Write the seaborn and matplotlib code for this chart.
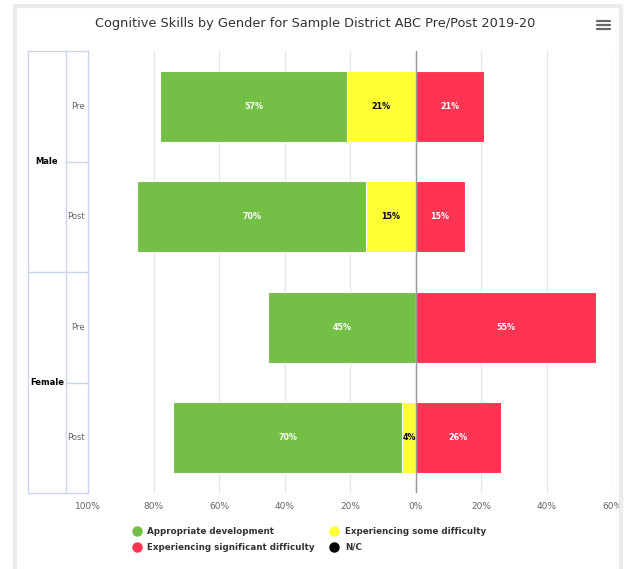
import matplotlib
matplotlib.use("Agg")
import matplotlib.pyplot as plt
import matplotlib.transforms as mtransforms
from matplotlib.lines import Line2D
from matplotlib.patches import Rectangle
import seaborn as sns
import pandas as pd

# ---------------- data ----------------
title = "Cognitive Skills by Gender for Sample District ABC Pre/Post 2019-20"
genders = ["Male", "Male", "Female", "Female"]
phases = ["Pre", "Post", "Pre", "Post"]
appropriate = [57, 70, 45, 70]
some_difficulty = [21, 15, 0, 4]
significant = [21, 15, 55, 26]
series_names = ["Appropriate development", "Experiencing some difficulty",
                "Experiencing significant difficulty", "N/C"]
series_colors = ["#74bf46", "#ffff33", "#ff3352", "#000000"]
xtick_values = [-100, -80, -60, -40, -20, 0, 20, 40, 60]
xtick_labels = [f"{abs(v)}%" for v in xtick_values]

# ---------------- setup ----------------
sns.set_theme(style="white")
plt.rcParams['font.family'] = ['DejaVu Sans']

df = pd.DataFrame({
    "key": [f"{g} {p}" for g, p in zip(genders, phases)],
    "gender": genders, "phase": phases,
    "appr": appropriate, "some": some_difficulty, "sig": significant,
})
df["left_total"] = -(df["appr"] + df["some"])
df["left_some"] = -df["some"]
order = list(df["key"])

W, H = 625, 569
fig = plt.figure(figsize=(W / 100, H / 100), dpi=100)
fig.patch.set_facecolor("white")
ax = fig.add_axes([88 / W, 1 - 493 / H, (612 - 88) / W, (493 - 51) / H])

bar_kw = dict(orient="h", order=order, width=0.64, edgecolor="white",
              linewidth=0.8, ax=ax, errorbar=None, saturation=1, zorder=2)
sns.barplot(data=df, x="left_total", y="key", color=series_colors[0], **bar_kw)
sns.barplot(data=df, x="left_some", y="key", color=series_colors[1], **bar_kw)
sns.barplot(data=df, x="sig", y="key", color=series_colors[2], **bar_kw)

ax.set_xlim(-100, 60)
ax.set_ylim(3.5, -0.5)
ax.set_xticks(xtick_values)
ax.set_xticklabels(xtick_labels)
ax.tick_params(axis='x', length=0, pad=6.5, labelsize=6.5, labelcolor="#666666")
ax.tick_params(axis='y', length=0, labelleft=False)
ax.set_xlabel("")
ax.set_ylabel("")
for s in ax.spines.values():
    s.set_visible(False)
ax.grid(axis='x', color="#e6e6e6", linewidth=1)
ax.grid(axis='y', visible=False)
ax.set_axisbelow(True)
ax.axvline(0, color="#999999", linewidth=1, zorder=3)

# data labels
for i, row in df.iterrows():
    if row["appr"] > 0:
        ax.text(-(row["some"] + row["appr"] / 2), i, f"{row['appr']}%", ha="center", va="center",
                fontsize=5.8, fontweight="bold", color="white", zorder=4)
    if row["some"] > 0:
        ax.text(-row["some"] / 2, i, f"{row['some']}%", ha="center", va="center",
                fontsize=5.8, fontweight="bold", color="black", zorder=4)
    if row["sig"] > 0:
        ax.text(row["sig"] / 2, i, f"{row['sig']}%", ha="center", va="center",
                fontsize=5.8, fontweight="bold", color="white", zorder=4)

# grouped category axis
tr = mtransforms.blended_transform_factory(fig.transFigure, ax.transData)
box_col = "#ccd6eb"
x_out, x_mid, x_in = 28 / W, 66 / W, 88 / W
for xv in (x_out, x_mid, x_in):
    fig.add_artist(Line2D([xv, xv], [-0.5, 3.5], transform=tr, color=box_col, lw=1))
for yv in (-0.5, 1.5, 3.5):
    fig.add_artist(Line2D([x_out, x_in], [yv, yv], transform=tr, color=box_col, lw=1))
for yv in (0.5, 2.5):
    fig.add_artist(Line2D([x_mid, x_in], [yv, yv], transform=tr, color=box_col, lw=1))
for i, p in enumerate(phases):
    fig.text(85 / W, i, p, transform=tr, ha="right", va="center", fontsize=6, color="#666666")
groups = []
for i, g in enumerate(genders):
    if not groups or groups[-1][0] != g:
        groups.append([g, i, i])
    else:
        groups[-1][2] = i
for g, a, b in groups:
    fig.text(47 / W, (a + b) / 2, g, transform=tr, ha="center", va="center",
             fontsize=6, fontweight="bold", color="#000000")

# title
fig.text(315 / W, 1 - 24 / H, title, ha="center", va="center", fontsize=9.3, color="#333333")

# hamburger menu icon
for yy in (21, 25, 29):
    fig.add_artist(Line2D([597 / W, 610 / W], [1 - yy / H, 1 - yy / H], color="#666666", lw=1.6))

# outer frame
fig.add_artist(Rectangle((15 / W, -0.05), (620.5 - 15) / W, 1.05 - 6 / H, transform=fig.transFigure,
                         fill=False, edgecolor="#ececec", lw=3))

# legend
handles = [Line2D([], [], marker='o', linestyle='', markersize=6.5, color=c) for c in series_colors]
leg_order = [0, 2, 1, 3]
fig.legend([handles[k] for k in leg_order], [series_names[k] for k in leg_order],
           loc="upper left", bbox_to_anchor=(133 / W, 1 - 527 / H), ncol=2, frameon=False,
           prop={"size": 6.3, "weight": "bold"}, labelcolor="#333333",
           handlelength=0.8, handletextpad=0.8, columnspacing=1.85,
           borderpad=0, borderaxespad=0, labelspacing=0.75)

fig.savefig("out.png", dpi=100, facecolor="white")
